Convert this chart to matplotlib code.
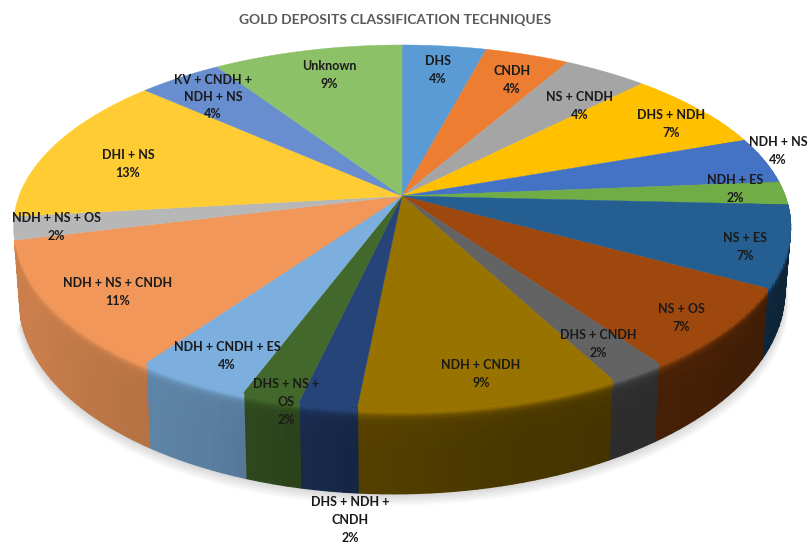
import numpy as np
import matplotlib
matplotlib.use("Agg")
import matplotlib.pyplot as plt
from matplotlib.collections import PolyCollection
from matplotlib.colors import to_rgb

# share of deposits per technique, clockwise from 12 o'clock
labels = ["DHS", "CNDH", "NS + CNDH", "DHS + NDH", "NDH + NS", "NDH + ES",
          "NS + ES", "NS + OS", "DHS + CNDH", "NDH + CNDH",
          "DHS + NDH +\nCNDH", "DHS + NS +\nOS", "NDH + CNDH + ES",
          "NDH + NS + CNDH", "NDH + NS + OS", "DHI + NS",
          "KV + CNDH +\nNDH + NS", "Unknown"]
shares = [4, 4, 4, 7, 4, 2, 7, 7, 2, 9, 2, 2, 4, 11, 2, 13, 4, 9]
colors = ["#5B9BD5", "#ED7D31", "#A5A5A5", "#FFC000", "#4472C4", "#70AD47",
          "#255E91", "#9E480E", "#636363", "#997300", "#264478", "#43682B",
          "#7CAFDD", "#F1975A", "#B7B7B7", "#FFCD33", "#698ED0", "#8CC168"]

# label centres in figure pixels
label_x = [438, 512, 580, 671, 778, 735, 745, 681, 598, 481,
           350, 286, 227, 118, 56, 128, 213, 329]
label_y = [70, 80, 106, 124, 151, 189, 247, 318, 344, 374,
           520, 402, 356, 292, 227, 164, 97, 75]

# projection of the pie disc
CX, CY = 402.0, 196.0
RX, RY = 383.0, 176.4
PERSP = 0.168
# the wall stops where the last front slice ends
WALL_END = 69


def top_rim(t):
    u, v = np.sin(t), np.cos(t)
    w = 1 + PERSP * v
    return CX + RX * u / w, CY - RY * v / w


def bottom_rim(t):
    x, y = top_rim(t)
    dy = 66.6 - 0.0116 * (x - CX) + 0.09 * (y - CY)
    return CX + 0.985 * (x - CX), y + dy


def wall_shade(deg):
    return np.interp(deg, [60, 90, 120, 150, 165, 185, 195, 205, 225, 240, 270, 300],
                     [.35, .35, .40, .45, .47, .55, .65, .72, .78, .83, .85, .85])


fig = plt.figure(figsize=(8.08, 5.44), dpi=100)
ax = fig.add_axes([0, 0, 1, 1])
ax.set_xlim(0, 808)
ax.set_ylim(544, 0)
ax.axis("off")

edges = np.cumsum([0] + shares) / float(sum(shares)) * 2 * np.pi
wall_stop = WALL_END / float(sum(shares)) * 2 * np.pi

# soft shadow under the pie
tt = np.linspace(np.radians(60), wall_stop, 241)
sx, sy = bottom_rim(tt)
for grow in np.arange(12, 0, -1.5):
    ax.fill(np.r_[CX, CX + (sx - CX) * (1 + grow / 1100.0)], np.r_[CY, sy + grow],
            color="k", alpha=0.02, lw=0, zorder=1)

# side wall, built from small quads so the shading can vary
fracs = np.array([0, .02, .04, .06, .08, .10, .13, .16, .2, .3, .4, .5, .6, .7, .8, .9, 1.0])
boost = np.array([.95, 1.0, 1.0, .85, .55, .3, .15, .08, .04, .02, .01, 0, 0, 0, 0, 0, 0])
verts = []
vcols = []
for i in range(len(shares)):
    n = max(int((edges[i + 1] - edges[i]) / np.radians(1.5)), 1)
    ang = np.linspace(edges[i], edges[i + 1], n + 1)
    base = np.array(to_rgb(colors[i]))
    for a0, a1 in zip(ang[:-1], ang[1:]):
        deg = np.degrees((a0 + a1) / 2)
        if deg < 60 or a1 > wall_stop + 1e-6:
            continue
        x00, y00 = top_rim(a0)
        x01, y01 = top_rim(a1)
        x10, y10 = bottom_rim(a0)
        x11, y11 = bottom_rim(a1)
        sh = wall_shade(deg)
        for k in range(len(fracs) - 1):
            f0, f1 = fracs[k], fracs[k + 1]
            verts.append([(x00 + (x10 - x00) * f0, y00 + (y10 - y00) * f0),
                          (x01 + (x11 - x01) * f0, y01 + (y11 - y01) * f0),
                          (x01 + (x11 - x01) * f1, y01 + (y11 - y01) * f1),
                          (x00 + (x10 - x00) * f1, y00 + (y10 - y00) * f1)])
            s = sh + (1.0 - sh) * boost[k]
            vcols.append(np.clip(base * s, 0, 1))
ax.add_collection(PolyCollection(verts, facecolors=vcols, edgecolors=vcols,
                                 linewidths=1.0, zorder=2))

# top face
for i in range(len(shares)):
    ang = np.linspace(edges[i], edges[i + 1], 60)
    x, y = top_rim(ang)
    ax.fill(np.r_[CX, x], np.r_[CY, y], color=colors[i], lw=0.3, zorder=3)

# slice labels
for i in range(len(shares)):
    ax.text(label_x[i], label_y[i], labels[i] + "\n" + str(shares[i]) + "%",
            ha="center", va="center", family="Lato", fontweight="bold",
            fontsize=9, color="#1a1a1a", linespacing=1.55, zorder=5)

ax.text(395, 20.5, "GOLD DEPOSITS CLASSIFICATION TECHNIQUES", ha="center", va="center",
        family="Lato", fontweight="bold", fontsize=9.95, color="#595959")

plt.savefig("out.png", dpi=100)
